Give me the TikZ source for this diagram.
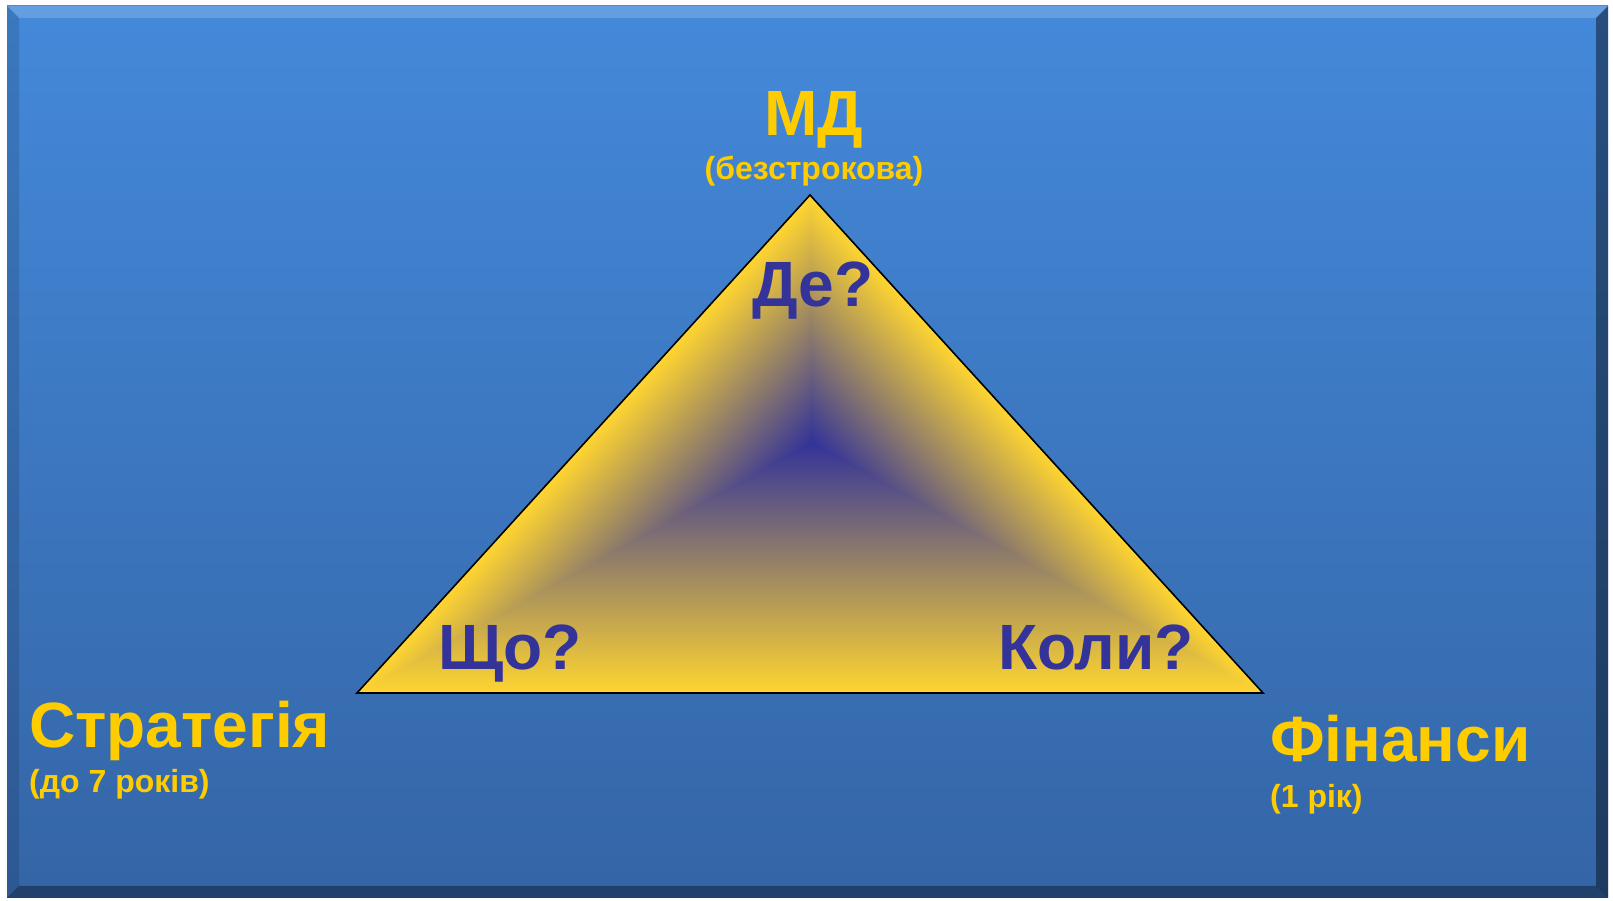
\documentclass[tikz,border=0pt]{standalone}
\usepackage{fontspec}
\setmainfont{Liberation Sans}
\usepackage{xcolor}
\usepackage{tikz}
\usetikzlibrary{
  positioning,
  calc
}
\definecolor{slidetop}{RGB}{68, 137, 218}
\definecolor{slidemid}{RGB}{60, 120, 194}
\definecolor{slidebot}{RGB}{52, 101, 166}
\definecolor{coreblue}{RGB}{51, 51, 153}
\definecolor{midtone}{RGB}{188, 158, 112}
\definecolor{edgeyellow}{RGB}{255, 213, 48}
\definecolor{labelyellow}{RGB}{255, 204, 0}
\definecolor{askblue}{RGB}{51, 51, 153}
\tikzset{
  heading/.style = {
    inner sep=0pt, text=labelyellow,
    font=\fontsize{64}{64}\selectfont\bfseries
  },
  subheading/.style = {
    inner sep=0pt, text=labelyellow,
    font=\fontsize{32}{32}\selectfont\bfseries
  },
  question/.style = {
    inner sep=0pt, text=askblue,
    font=\fontsize{64}{64}\selectfont\bfseries
  },
  triedge/.style = {draw=black, line width=1.6pt, line join=miter},
  bevel/.style = {fill=#1, draw=none},
}

\begin{document}
\begin{tikzpicture}[x=1pt, y=1pt]
  \useasboundingbox (0,0) rectangle (1613,901);

  % slide background with bevelled frame
  \shade[top color=slidetop, middle color=slidemid, bottom color=slidebot]
    (7,3) rectangle (1608,895);
  \fill[bevel=white, fill opacity=0.18]
    (7,895) -- (1608,895) -- (1596,883) -- (19,883) -- cycle;
  \fill[bevel=black, fill opacity=0.12]
    (7,895) -- (19,883) -- (19,15) -- (7,3) -- cycle;
  \fill[bevel=black, fill opacity=0.42]
    (1608,895) -- (1608,3) -- (1596,15) -- (1596,883) -- cycle;
  \fill[bevel=black, fill opacity=0.35]
    (7,3) -- (1608,3) -- (1596,15) -- (19,15) -- cycle;

  % triangle corners and its dark core
  \coordinate (apex)  at (810,706);
  \coordinate (left)  at (357,208);
  \coordinate (right) at (1263,208);
  \coordinate (core)  at (812,459);

  % path gradient: base wedge under the whole triangle, side wedges on top
  \begin{scope}
    \clip (apex) -- (left) -- (right) -- cycle;
    \shade[top color=coreblue, middle color=midtone, bottom color=edgeyellow]
      (357,208) rectangle (1263,459);
    \begin{scope}
      \clip ($(core)+(1,-1.5)$) -- ($(apex)+(1,0)$) -- (left) -- cycle;
      \begin{scope}[transform canvas={shift={(core)}, rotate=47.7}]
        \shade[bottom color=coreblue, middle color=midtone,
               top color=edgeyellow]
          (-800,0) rectangle (800,167.7);
      \end{scope}
    \end{scope}
    \begin{scope}
      \clip ($(core)+(-1,-1.5)$) -- ($(apex)+(-1,0)$) -- (right) -- cycle;
      \begin{scope}[transform canvas={shift={(core)}, rotate=-47.7}]
        \shade[bottom color=coreblue, middle color=midtone,
               top color=edgeyellow]
          (-800,0) rectangle (800,164.7);
      \end{scope}
    \end{scope}
  \end{scope}
  \draw[triedge] (apex) -- (left) -- (right) -- cycle;

  % corner labels
  \node[heading, anchor=base] (md) at (814,765) {МД};
  \node[subheading, below=44pt of md.base, anchor=base] (mdterm)
    {(безстрокова)};
  \node[heading, anchor=base west] (strat) at (29,153) {Стратегія};
  \node[subheading, below=45pt of strat.base west, anchor=base west]
    (stratterm) {(до 7 років)};
  \node[heading, anchor=base west] (fin) at (1270,139) {Фінанси};
  \node[subheading, below=46pt of fin.base west, anchor=base west]
    (finterm) {(1 рік)};

  % questions inside the triangle
  \node[question, anchor=base] (where) at (813,594) {Де?};
  \node[question, anchor=base west] (what) at (438,231) {Що?};
  \node[question, anchor=base west] (when) at (998,231) {Коли?};

\end{tikzpicture}
\end{document}
